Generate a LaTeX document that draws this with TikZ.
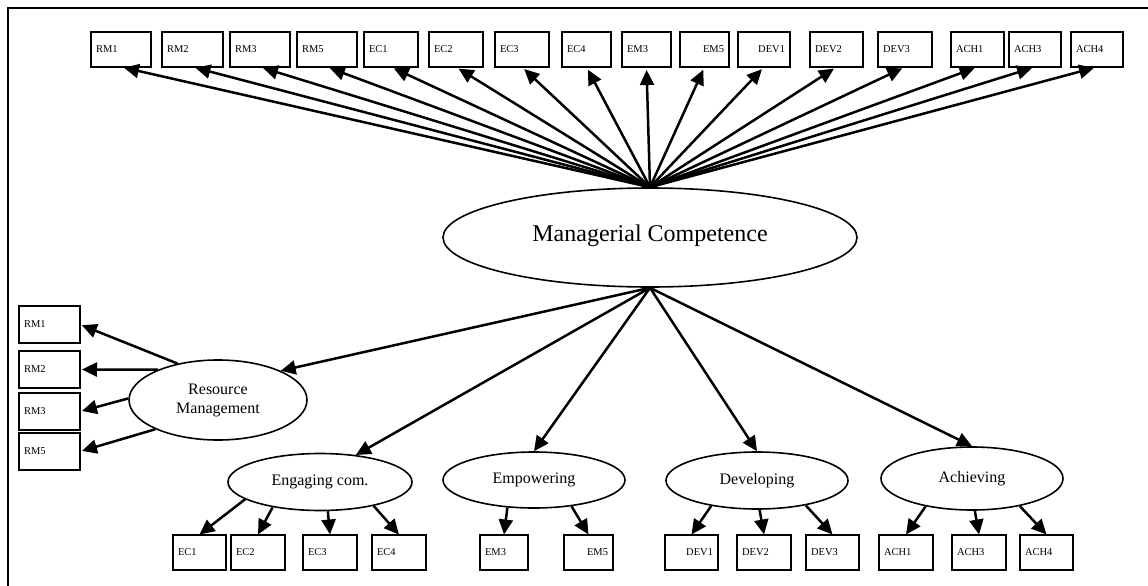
\documentclass[tikz,border=0pt]{standalone}
\usepackage{fontspec}
\setmainfont{Liberation Serif}
\usetikzlibrary{shapes.geometric,arrows.meta,positioning}
\tikzset{
  ind/.style={rectangle, draw, line width=2pt, inner xsep=5pt, inner ysep=0pt,
              outer sep=0pt, minimum height=35pt, text width=#1, align=left,
              font=\fontsize{10.5}{12}\selectfont},
  ind/.default=44pt,
  lat/.style={ellipse, draw, line width=1.6pt, inner sep=0pt, align=center,
              font=\fontsize{16}{19}\selectfont},
  arrow/.style={-{Triangle[length=15pt,width=14pt]}, line width=2.5pt},
}

\begin{document}
\begin{tikzpicture}[x=1pt, y=-1pt]
\useasboundingbox (0,0) rectangle (1148,586);
\draw[line width=2.7pt] (1152,8) -- (8,8) -- (8,590);

\node[lat, minimum width=414pt, minimum height=99pt, font=\fontsize{24}{29}\selectfont] (mc) at (650,237.5) {\raisebox{9pt}{Managerial Competence}};

% top row, loaded on the general factor
\node[ind=50pt] (trm1) at (121,49.5) {RM1};
\node[ind=51pt, right=11pt of trm1] (trm2) {RM2};
\node[ind=50pt, right=7pt of trm2] (trm3) {RM3};
\node[ind=50pt, right=7pt of trm3] (trm5) {RM5};
\node[ind=44pt, right=7pt of trm5] (tec1) {EC1};
\node[ind=44pt, right=11pt of tec1] (tec2) {EC2};
\node[ind=44pt, right=12pt of tec2] (tec3) {EC3};
\node[ind=39pt, right=13pt of tec3] (tec4) {EC4};
\node[ind=39pt, right=11pt of tec4] (tem3) {EM3};
\node[ind=39pt, right=9pt of tem3, align=right] (tem5) {EM5};
\node[ind=42pt, right=9pt of tem5, align=right] (tdev1) {DEV1};
\node[ind=43pt, right=20pt of tdev1] (tdev2) {DEV2};
\node[ind=44pt, right=15pt of tdev2] (tdev3) {DEV3};
\node[ind=43pt, right=19pt of tdev3] (tach1) {ACH1};
\node[ind=42pt, right=5pt of tach1] (tach3) {ACH3};
\node[ind=42pt, right=10pt of tach3] (tach4) {ACH4};

\draw[arrow, shorten >=3pt] (mc.north) -- (trm1.south);
\draw[arrow, shorten >=3pt] (mc.north) -- (trm2.south);
\draw[arrow, shorten >=3pt] (mc.north) -- (trm3.south);
\draw[arrow, shorten >=3pt] (mc.north) -- (trm5.south);
\draw[arrow, shorten >=3pt] (mc.north) -- (tec1.south);
\draw[arrow, shorten >=3pt] (mc.north) -- (tec2.south);
\draw[arrow, shorten >=3pt] (mc.north) -- (tec3.south);
\draw[arrow, shorten >=3pt] (mc.north) -- (tec4.south);
\draw[arrow, shorten >=3pt] (mc.north) -- (tem3.south);
\draw[arrow, shorten >=3pt] (mc.north) -- (tem5.south);
\draw[arrow, shorten >=3pt] (mc.north) -- (tdev1.south);
\draw[arrow, shorten >=3pt] (mc.north) -- (tdev2.south);
\draw[arrow, shorten >=3pt] (mc.north) -- (tdev3.south);
\draw[arrow, shorten >=3pt] (mc.north) -- (tach1.south);
\draw[arrow, shorten >=3pt] (mc.north) -- (tach3.south);
\draw[arrow, shorten >=3pt] (mc.north) -- (tach4.south);

% first-order factors
\node[lat, minimum width=178pt, minimum height=80pt] (resm) at (218,400) {Resource\\Management};
\node[lat, minimum width=184pt, minimum height=57pt] (eng) at (320,482) {Engaging com.};
\node[lat, minimum width=182pt, minimum height=56pt] (emp) at (534,480) {Empowering};
\node[lat, minimum width=182pt, minimum height=57pt] (dev) at (757,480.5) {Developing};
\node[lat, minimum width=182pt, minimum height=63pt] (ach) at (972,478.5) {Achieving};

\draw[arrow] (mc.south) -- (resm.25);
\draw[arrow] (mc.south) -- (eng.37);
\draw[arrow] (mc.south) -- (emp.north);
\draw[arrow] (mc.south) -- (dev.north);
\draw[arrow] (mc.south) -- (ach.north);

% left column
\node[ind=51pt, minimum height=37pt] (rm1) at (49.5,324.5) {RM1};
\node[ind=51pt, minimum height=37pt, below=8pt of rm1] (rm2) {RM2};
\node[ind=51pt, minimum height=37pt, below=5pt of rm2] (rm3) {RM3};
\node[ind=51pt, minimum height=37pt, below=3pt of rm3] (rm5) {RM5};

\draw[arrow, shorten >=2pt] (resm.138) -- (rm1.east);
\draw[arrow, shorten >=2pt] (resm.153) -- (rm2.east);
\draw[arrow, shorten >=2pt] (resm.179) -- (rm3.east);
\draw[arrow, shorten >=2pt] (resm.205) -- (rm5.east);

% bottom row
\node[ind=43pt] (ec1) at (199.5,552) {EC1};
\node[ind=44pt, right=5pt of ec1] (ec2) {EC2};
\node[ind=44pt, right=18pt of ec2] (ec3) {EC3};
\node[ind=44pt, right=15pt of ec3] (ec4) {EC4};
\node[ind=38pt, right=54pt of ec4] (em3) {EM3};
\node[ind=39pt, right=36pt of em3, align=right] (em5) {EM5};
\node[ind=43pt, right=52pt of em5, align=right] (dev1) {DEV1};
\node[ind=44pt, right=19pt of dev1] (dev2) {DEV2};
\node[ind=43pt, right=15pt of dev2] (dev3) {DEV3};
\node[ind=44pt, right=20pt of dev3] (ach1) {ACH1};
\node[ind=44pt, right=19pt of ach1] (ach3) {ACH3};
\node[ind=43pt, right=14pt of ach3] (ach4) {ACH4};

\draw[arrow] (eng.193) -- (ec1.north);
\draw[arrow] (eng.208) -- (ec2.north);
\draw[arrow] (eng.285) -- (ec3.north);
\draw[arrow] (eng.336) -- (ec4.north);
\draw[arrow] (emp.226) -- (em3.north);
\draw[arrow] (emp.325) -- (em5.north);
\draw[arrow] (dev.209) -- (dev1.north);
\draw[arrow] (dev.275) -- (dev2.north);
\draw[arrow] (dev.333) -- (dev3.north);
\draw[arrow] (ach.211) -- (ach1.north);
\draw[arrow] (ach.275) -- (ach3.north);
\draw[arrow] (ach.330) -- (ach4.north);
\end{tikzpicture}
\end{document}
